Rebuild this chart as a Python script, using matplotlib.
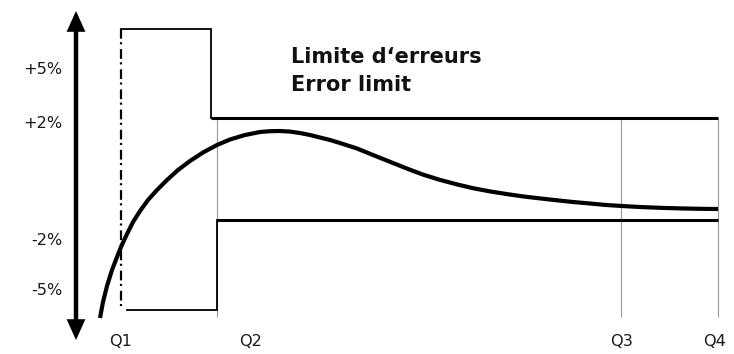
import matplotlib
matplotlib.use("Agg")
import matplotlib.pyplot as plt
from matplotlib.patches import FancyArrowPatch

# Schematic coordinates (horizontal: measurement range, vertical: deviation, top = positive)
q_labels = ["Q1", "Q2", "Q3", "Q4"]
q_lines = [121, 217, 621, 718]           # quarter boundaries
q_label_x = [121, 251, 622, 715]         # label centres under the boundaries

pct_labels = ["+5%", "+2%", "-2%", "-5%"]
pct_levels = [74, 128, 245, 295]         # label baselines

start_band_top = 29       # wide tolerance between Q1 and Q2 (upper)
start_band_bottom = 310   # wide tolerance between Q1 and Q2 (lower)
upper_limit = 118         # +2 % limit from Q2 to Q4
lower_limit = 220         # -2 % limit from Q2 to Q4
upper_step_x = 211

curve_x = [100, 103, 107, 112, 117, 121, 127, 133, 140, 148, 157, 167, 178, 190,
           203, 217, 230, 245, 260, 270, 280, 290, 300, 310, 320, 330, 340, 357,
           373, 390, 407, 423, 440, 457, 473, 490, 507, 523, 540, 557, 573, 590,
           606, 622, 640, 660, 680, 700, 718]
curve_y = [318, 302, 286, 270, 257, 247, 234, 222, 211, 200, 190, 180, 170, 161,
           152.5, 145, 139.5, 135, 132, 131.2, 131, 131.6, 133, 135, 137.5, 140,
           143, 148.5, 155, 161.8, 168.6, 174.6, 179.9, 184.4, 188.2, 191.4, 194.1,
           196.4, 198.4, 200.3, 202, 203.5, 205, 206, 207, 207.8, 208.4, 208.8, 209]

title_lines = ["Limite d\u2018erreurs", "Error limit"]

plt.rcParams["lines.scale_dashes"] = False

fig = plt.figure(figsize=(7.34, 3.54), dpi=100)
ax = fig.add_axes([0, 0, 1, 1])
ax.set_xlim(0, 734)
ax.set_ylim(354, 0)
ax.axis("off")

label_font = dict(family=["DejaVu Sans"], fontsize=11.6, color="#1a1a1a")

# thin grey quarter boundaries
grey_bottom = 317
for x in q_lines[1:]:
    ax.plot([x, x], [upper_limit, grey_bottom], color="#9a9a9a", lw=0.8,
            solid_capstyle="butt")

# start-up band (Q1 .. Q2)
ax.plot([q_lines[0], upper_step_x, upper_step_x],
        [start_band_top, start_band_top, upper_limit],
        color="black", lw=1.3, solid_joinstyle="miter")
ax.plot([q_lines[0] + 6, q_lines[1], q_lines[1]],
        [start_band_bottom, start_band_bottom, lower_limit],
        color="black", lw=1.3, solid_joinstyle="miter")

# error limits Q2 .. Q4
ax.plot([upper_step_x, q_lines[-1]], [upper_limit, upper_limit],
        color="black", lw=2.2, solid_capstyle="butt")
ax.plot([q_lines[1], q_lines[-1]], [lower_limit, lower_limit],
        color="black", lw=2.2, solid_capstyle="butt")

# Q1 dash-dot marker
ax.plot([q_lines[0], q_lines[0]], [start_band_top, start_band_bottom],
        color="black", lw=1.6, linestyle=(0, (7, 2.5, 1.5, 3.5)),
        dash_capstyle="butt")

# measured error curve
ax.plot(curve_x, curve_y, color="black", lw=3.0, solid_capstyle="butt",
        solid_joinstyle="round")

# vertical deviation axis with arrowheads
arrow = FancyArrowPatch((76, 11), (76, 340),
                        arrowstyle="<|-|>,head_length=9.5,head_width=4.3",
                        mutation_scale=1, lw=3.2, color="black",
                        shrinkA=0, shrinkB=0, joinstyle="miter")
ax.add_patch(arrow)

for lab, y in zip(pct_labels, pct_levels):
    ax.text(62, y, lab, ha="right", va="baseline", **label_font)

for lab, x in zip(q_labels, q_label_x):
    ax.text(x, 346, lab, ha="center", va="baseline", **label_font)

for i, line in enumerate(title_lines):
    ax.text(291, 62.7 + 28 * i, line, ha="left", va="baseline",
            family=["DejaVu Sans"], fontweight="bold", fontsize=15,
            color="#111111")

fig.savefig("out.png", dpi=100)
